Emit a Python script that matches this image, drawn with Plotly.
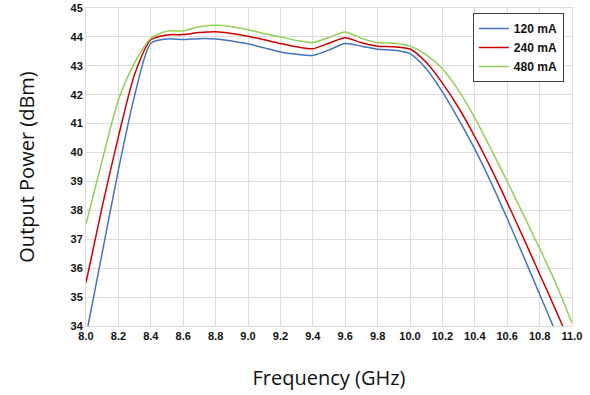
import plotly.graph_objects as go

freq = [8.0, 8.1, 8.2, 8.3, 8.4, 8.5, 8.6, 8.7, 8.8, 8.9, 9.0, 9.1, 9.2, 9.3, 9.4, 9.5,
        9.6, 9.7, 9.8, 9.9, 10.0, 10.1, 10.2, 10.3, 10.4, 10.5, 10.6, 10.7, 10.8, 10.9, 11.0]

p_120 = [33.65, 36.53, 39.4, 41.97, 43.78, 43.93, 43.91, 43.94, 43.93, 43.86, 43.76, 43.62, 43.48,
         43.40, 43.36, 43.55, 43.77, 43.68, 43.57, 43.54, 43.42, 42.9, 42.1, 41.15, 40.12, 38.97,
         37.72, 36.42, 35.1, 33.78, 32.45]
p_240 = [35.5, 38.13, 40.55, 42.7, 43.9, 44.07, 44.08, 44.15, 44.18, 44.12, 44.02, 43.9, 43.77,
         43.66, 43.59, 43.78, 43.97, 43.8, 43.68, 43.66, 43.58, 43.12, 42.4, 41.55, 40.55, 39.45,
         38.27, 37.05, 35.8, 34.55, 33.25]
p_480 = [37.53, 39.73, 41.82, 43.1, 43.95, 44.2, 44.21, 44.35, 44.4, 44.35, 44.25, 44.12, 44.0,
         43.88, 43.81, 43.98, 44.17, 43.95, 43.8, 43.78, 43.68, 43.38, 42.9, 42.15, 41.2, 40.12,
         39.0, 37.85, 36.68, 35.48, 34.1]

series_names = ["120 mA", "240 mA", "480 mA"]
series_values = [p_120, p_240, p_480]
series_colors = ["#4472C4", "#D00000", "#92D050"]

x_ticks = [8.0, 8.2, 8.4, 8.6, 8.8, 9.0, 9.2, 9.4, 9.6, 9.8, 10.0, 10.2, 10.4, 10.6, 10.8, 11.0]
y_ticks = list(range(34, 46))

fig = go.Figure()
for name, vals, col in zip(series_names, series_values, series_colors):
    fig.add_trace(go.Scatter(x=freq, y=vals, mode="lines", name=f"<b>{name}</b>",
                             line=dict(color=col, width=1.5, shape="spline", smoothing=0.7)))

tick_font = dict(family="Liberation Sans, Arial, sans-serif", size=11, color="#111111")
title_font = dict(family="Open Sans, sans-serif", size=20, color="#111111")
fig.update_layout(
    width=590, height=395,
    margin=dict(l=86, r=18, t=8, b=69),
    paper_bgcolor="white", plot_bgcolor="white",
    xaxis=dict(range=[8.0, 11.0], tickvals=x_ticks, ticktext=[f"<b>{v:.1f}</b>" for v in x_ticks],
               showgrid=True, gridcolor="#dcdcdc", gridwidth=1, zeroline=False,
               showline=True, linecolor="#dcdcdc", mirror=True, ticks="",
               tickfont=tick_font, automargin=False,
               title=dict(text="Frequency (GHz)", standoff=29, font=title_font)),
    yaxis=dict(range=[34, 45], tickvals=y_ticks, ticktext=[f"<b>{v}</b>" for v in y_ticks],
               showgrid=True, gridcolor="#dcdcdc", gridwidth=1,
               zeroline=False, showline=True, linecolor="#dcdcdc", mirror=True, ticks="",
               tickfont=tick_font, automargin=False,
               title=dict(text="Output Power (dBm)", standoff=30, font=title_font)),
    legend=dict(x=0.796, y=0.984, xanchor="left", yanchor="top",
                bordercolor="#404040", borderwidth=1, bgcolor="white",
                font=dict(family="Liberation Sans, Arial, sans-serif", size=12, color="#111111"),
                itemwidth=30, tracegroupgap=0),
)

fig.write_html("out.html", config={"displayModeBar": False},
               post_script="document.body.style.margin='0';")
